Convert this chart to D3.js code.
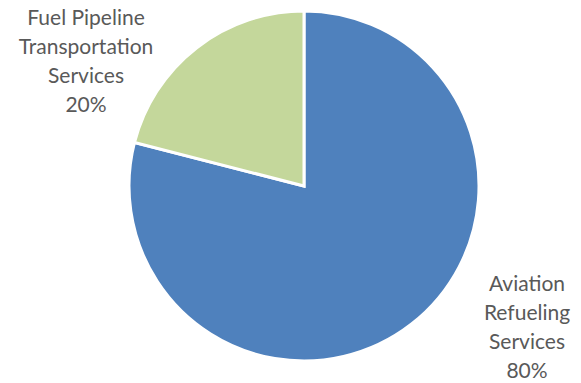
<!DOCTYPE html>
<html>
<head>
<meta charset="utf-8">
<script src="https://cdn.jsdelivr.net/npm/d3@7/dist/d3.min.js"></script>
<style>
  body { margin: 0; background: #fff; }
  text { font-family: Lato, "Open Sans", sans-serif; fill: #595959; }
</style>
</head>
<body>
<div id="chart"></div>
<script>
// chart data
var categories = ["Aviation Refueling Services", "Fuel Pipeline Transportation Services"];
var shares = [79, 21];
var pctLabels = ["80%", "20%"];
var labelLines = [["Aviation", "Refueling", "Services"], ["Fuel Pipeline", "Transportation", "Services"]];
var colors = ["#4f81bd", "#c4d79b"];

var width = 581;
var height = 383;
var cx = 304, cy = 186;
var radius = 175;

// where each label block is centred, relative to the pie centre
var labelOffsets = [[223, 141], [-218, -125]];
var lineHeight = 29;

var svg = d3.select('#chart')
    .append('svg')
    .attr('width', width)
    .attr('height', height);

var g = svg.append('g')
    .attr('transform', 'translate(' + cx + ',' + cy + ')');

var pie = d3.pie()
    .value(function(d) { return d; })
    .sort(null);

var arc = d3.arc()
    .innerRadius(0)
    .outerRadius(radius);

var arcs = pie(shares);

g.selectAll('path')
    .data(arcs)
    .enter()
    .append('path')
        .attr('d', arc)
        .attr('fill', function(d, i) { return colors[i]; })
        .attr('stroke', '#fff')
        .attr('stroke-width', 3)
        .attr('stroke-linejoin', 'miter');

// data labels: category name over several lines plus the percentage
var labels = g.selectAll('text.lbl')
    .data(arcs)
    .enter()
    .append('text')
        .attr('class', 'lbl')
        .attr('text-anchor', 'middle')
        .style('font-size', '21px');

labels.each(function(d, i) {
    var lines = labelLines[i].concat([pctLabels[i]]);
    var top = labelOffsets[i][1] - (lines.length - 1) * lineHeight / 2;
    var t = d3.select(this);
    lines.forEach(function(line, k) {
        t.append('tspan')
            .attr('x', labelOffsets[i][0])
            .attr('y', top + k * lineHeight)
            .attr('dy', '0.35em')
            .text(line);
    });
});
</script>
</body>
</html>
